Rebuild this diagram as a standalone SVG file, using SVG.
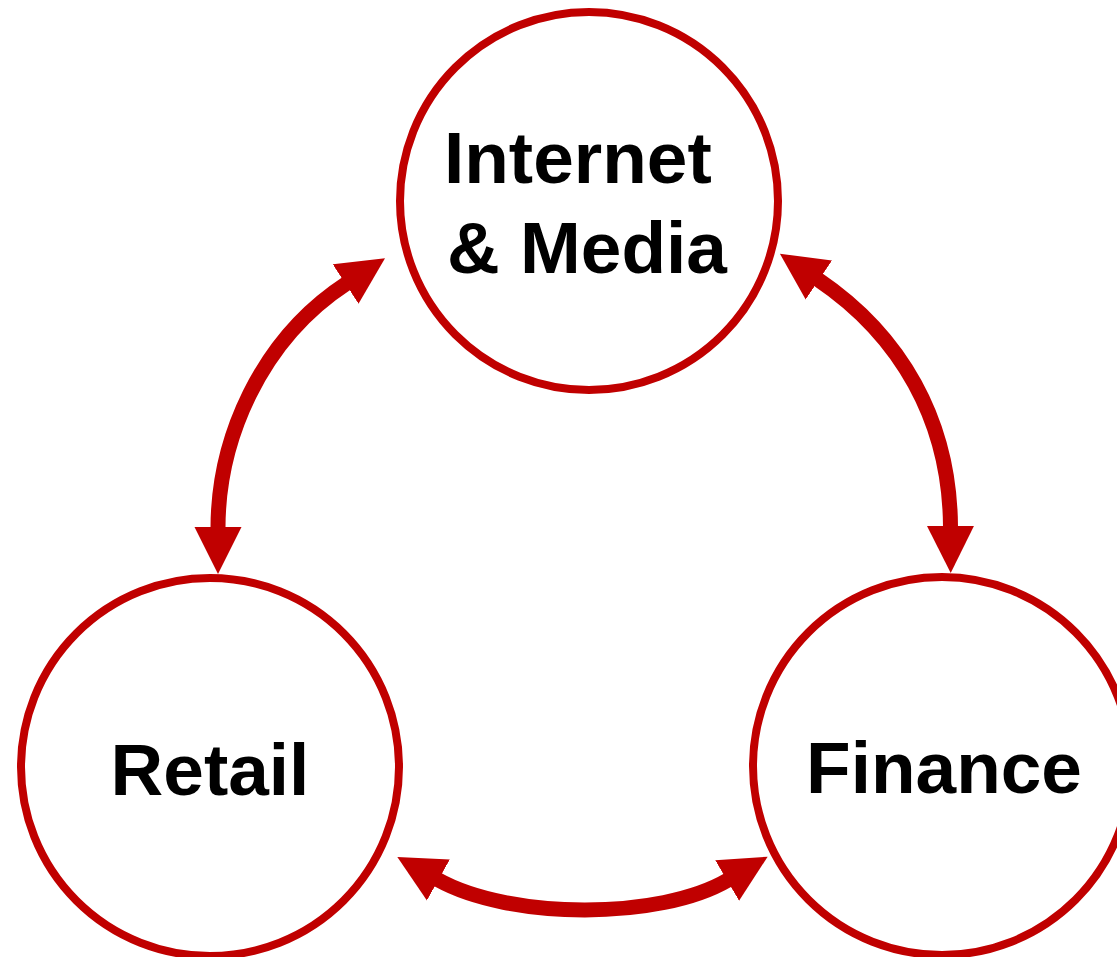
<svg xmlns="http://www.w3.org/2000/svg" width="1117" height="957" viewBox="0 0 1117 957">
  <style>
    .node circle { fill: #ffffff; stroke: #c00000; stroke-width: 8; }
    .node text { font-family: "Liberation Sans", Arial, sans-serif; font-weight: bold; font-size: 73px; fill: #000000; }
    .link { fill: none; stroke: #c00000; stroke-width: 15; marker-start: url(#head); marker-end: url(#head); }
  </style>
  <defs>
    <marker id="head" markerUnits="userSpaceOnUse" markerWidth="48" markerHeight="48" viewBox="0 -24 48 48" refX="1" refY="0" orient="auto-start-reverse">
      <path d="M0,-23.5 L47,0 L0,23.5 Z" fill="#c00000"/>
    </marker>
  </defs>
  <rect width="1117" height="957" fill="#ffffff"/>

  <g id="node-internet-media" class="node">
    <circle cx="589" cy="201" r="189"/>
    <text x="444" y="183">Internet</text>
    <text x="447" y="273">&amp; Media</text>
  </g>

  <g id="node-retail" class="node">
    <circle cx="210" cy="767" r="189"/>
    <text x="210" y="795" text-anchor="middle">Retail</text>
  </g>

  <g id="node-finance" class="node">
    <circle cx="942" cy="766" r="189"/>
    <text x="944" y="793" text-anchor="middle">Finance</text>
  </g>

  <g id="connectors">
    <path class="link" d="M218,528 C218,440 260,340 346.5,283.5"/>
    <path class="link" d="M818,279.5 C900,335 950,420 950.5,527"/>
    <path class="link" d="M437.5,879.5 C510,920 660,920 728,880"/>
  </g>
</svg>
